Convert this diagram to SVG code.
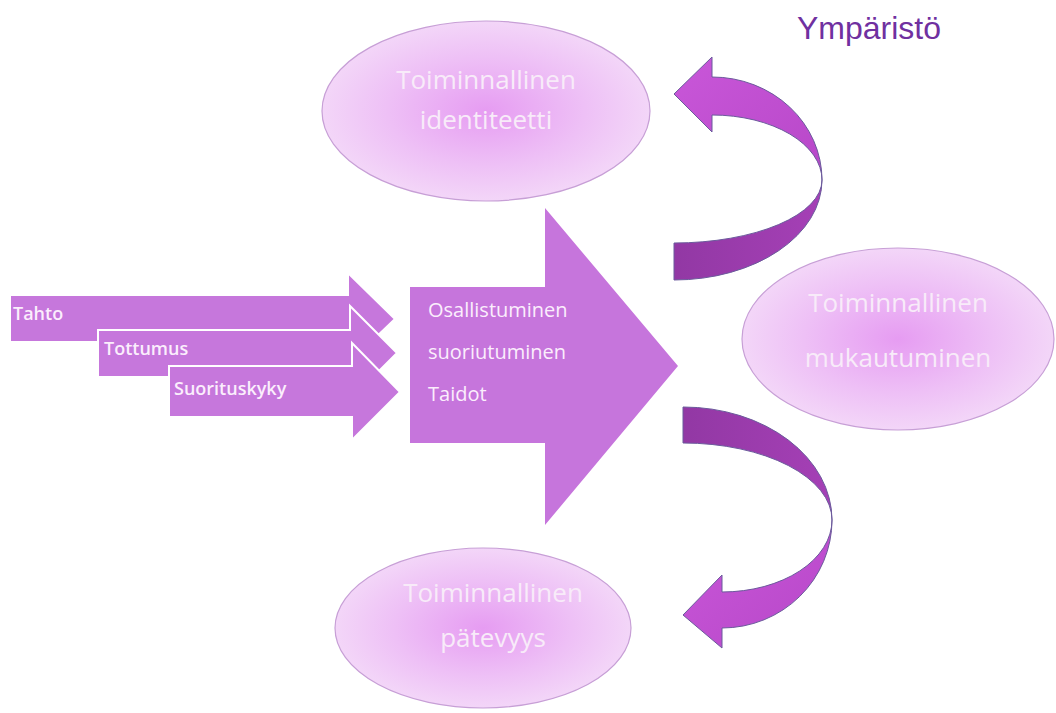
<svg xmlns="http://www.w3.org/2000/svg" width="1056" height="713" viewBox="0 0 1056 713">
<defs>
<radialGradient id="eg" cx="50%" cy="50%" r="50%">
<stop offset="0" stop-color="#e69cf2"/>
<stop offset="0.6" stop-color="#eec0f6"/>
<stop offset="1" stop-color="#f3d6f8"/>
</radialGradient>
<linearGradient id="light" x1="0" y1="0" x2="1" y2="1">
<stop offset="0" stop-color="#c957d9"/>
<stop offset="1" stop-color="#b747c8"/>
</linearGradient>
<linearGradient id="dark" x1="0" y1="0" x2="1" y2="0">
<stop offset="0" stop-color="#9238a4"/>
<stop offset="1" stop-color="#a540b6"/>
</linearGradient>
<style>
.ell{fill:url(#eg);stroke:#c79fd6;stroke-width:1.2}
.et{font-family:"Open Sans","Liberation Sans",sans-serif;font-size:26px;fill:#f8ebf9;text-anchor:middle}
.sa{fill:#c677dc;stroke:#ffffff;stroke-width:2}
.st{font-family:"Open Sans","Liberation Sans",sans-serif;font-size:18px;fill:#fbeefc;font-weight:600}
.bt{font-family:"Open Sans","Liberation Sans",sans-serif;font-size:20px;fill:#fbeefc}
.cl{fill:url(#light);stroke:#6b5a9c;stroke-width:1}
.cd{fill:url(#dark);stroke:#6b5a9c;stroke-width:1}
</style>
</defs>

<text x="797" y="39" font-family="Liberation Sans, Arial, sans-serif" font-size="32" fill="#7030a0">Ympäristö</text>

<g id="node-identiteetti">
<ellipse class="ell" cx="486" cy="111" rx="164" ry="90"/>
<text class="et" x="486" y="89">Toiminnallinen</text>
<text class="et" x="486" y="129">identiteetti</text>
</g>

<g id="node-mukautuminen">
<ellipse class="ell" cx="898" cy="339" rx="156" ry="91"/>
<text class="et" x="898" y="312">Toiminnallinen</text>
<text class="et" x="898" y="367">mukautuminen</text>
</g>

<g id="node-patevyys">
<ellipse class="ell" cx="483" cy="628" rx="148" ry="80"/>
<text class="et" x="493" y="602">Toiminnallinen</text>
<text class="et" x="493" y="647">pätevyys</text>
</g>

<g id="node-tahto">
<path class="sa" d="M10,295 H348 V273 L395,319 L348,364 V342 H10 Z"/>
<text class="st" x="13" y="320">Tahto</text>
</g>
<g id="node-tottumus">
<path class="sa" d="M98,330 H350 V306 L397,353 L350,400 V377 H98 Z"/>
<text class="st" x="104" y="355">Tottumus</text>
</g>
<g id="node-suorituskyky">
<path class="sa" d="M169,366 H352 V343 L400,392 L352,440 V417 H169 Z"/>
<text class="st" x="174" y="395">Suorituskyky</text>
</g>

<g id="node-osallistuminen">
<path fill="#c675dc" d="M410,287 H545 V208 L678,366 L545,525 V443 H410 Z"/>
<text class="bt" x="428" y="317">Osallistuminen</text>
<text class="bt" x="428" y="359">suoriutuminen</text>
<text class="bt" x="428" y="401">Taidot</text>
</g>

<g id="connectors">
<g id="arrow-up">
<path class="cd" d="M674,243 A148,63 0 0 0 822,180 A148,100 0 0 1 674,280 Z"/>
<path class="cl" d="M822,180 A110,103 0 0 0 712,77 L712,57 L674,94 L712,132 L712,115 A110,65 0 0 1 822,180 Z"/>
</g>
<g id="arrow-down">
<path class="cd" d="M683,407 A149,113 0 0 1 832,520 A149,77 0 0 0 683,443 Z"/>
<path class="cl" d="M832,520 A110,108 0 0 1 722,628 L722,648 L683,615 L722,575 L722,592 A110,72 0 0 0 832,520 Z"/>
</g>
</g>
</svg>
